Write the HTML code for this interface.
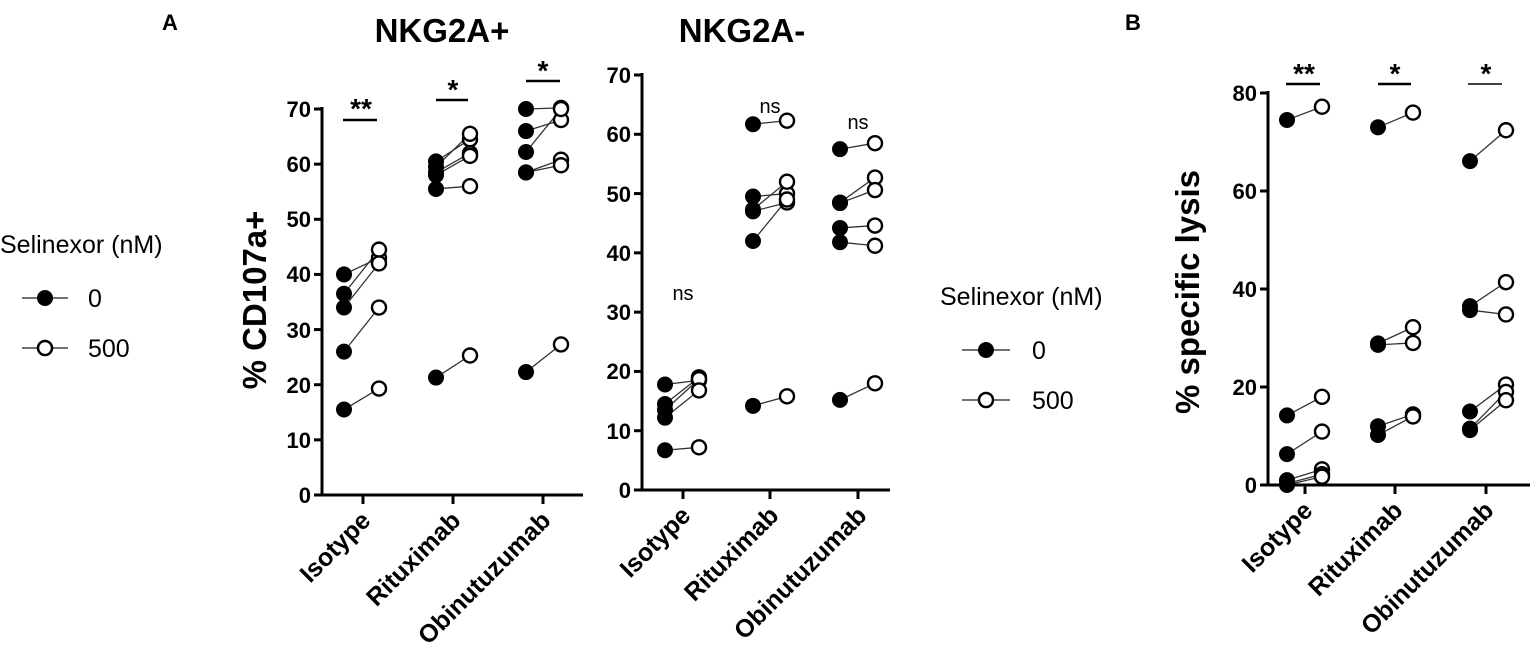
<!DOCTYPE html>
<html><head><meta charset="utf-8"><style>
html,body{margin:0;padding:0;background:#fff}
svg{display:block}
text{font-family:"Liberation Sans",Arial,sans-serif;fill:#000}
.tk{font-size:22px;font-weight:bold;text-anchor:end}
.xl{font-size:25px;font-weight:bold;text-anchor:end}
.ax{stroke:#000;stroke-width:3;fill:none}
.lg{font-size:25px}
</style></head><body>
<svg id="s" width="1536" height="668" viewBox="0 0 1536 668" xmlns="http://www.w3.org/2000/svg">
<text x="170" y="30" font-size="22" font-weight="bold" text-anchor="middle">A</text>
<text x="1133" y="30" font-size="22" font-weight="bold" text-anchor="middle">B</text>
<text x="442" y="42" font-size="33" font-weight="bold" text-anchor="middle">NKG2A+</text>
<text x="742" y="42" font-size="33" font-weight="bold" text-anchor="middle">NKG2A-</text>

<text x="0" y="253" class="lg">Selinexor (nM)</text>
<line x1="22" y1="298" x2="68" y2="298" stroke="#444" stroke-width="1.5"/><circle cx="45" cy="298" r="8" fill="#000"/>
<text x="88" y="307" class="lg">0</text>
<line x1="22" y1="348" x2="68" y2="348" stroke="#444" stroke-width="1.5"/><circle cx="45" cy="348" r="7" fill="#fff" stroke="#000" stroke-width="2.5"/>
<text x="88" y="357" class="lg">500</text>

<text x="940" y="305" class="lg">Selinexor (nM)</text>
<line x1="962" y1="350" x2="1010" y2="350" stroke="#444" stroke-width="1.5"/><circle cx="986" cy="350" r="8" fill="#000"/>
<text x="1032" y="359" class="lg">0</text>
<line x1="962" y1="400" x2="1010" y2="400" stroke="#444" stroke-width="1.5"/><circle cx="986" cy="400" r="7" fill="#fff" stroke="#000" stroke-width="2.5"/>
<text x="1032" y="409" class="lg">500</text>

<text transform="translate(266,300) rotate(-90)" font-size="33" font-weight="bold" text-anchor="middle">% CD107a+</text>
<text transform="translate(1199,292) rotate(-90)" font-size="33" font-weight="bold" text-anchor="middle">% specific lysis</text>

<g class="tk">
<text x="311" y="117">70</text><text x="311" y="172">60</text><text x="311" y="227">50</text><text x="311" y="282">40</text><text x="311" y="338">30</text><text x="311" y="393">20</text><text x="311" y="448">10</text><text x="311" y="503">0</text>
<text x="631" y="83">70</text><text x="631" y="142">60</text><text x="631" y="202">50</text><text x="631" y="261">40</text><text x="631" y="320">30</text><text x="631" y="379">20</text><text x="631" y="439">10</text><text x="631" y="498">0</text>
<text x="1257" y="101">80</text><text x="1257" y="199">60</text><text x="1257" y="297">40</text><text x="1257" y="395">20</text><text x="1257" y="493">0</text>
</g>
<g class="xl">
<text transform="translate(372,522) rotate(-45)">Isotype</text>
<text transform="translate(462,522) rotate(-45)">Rituximab</text>
<text transform="translate(552,522) rotate(-45)">Obinutuzumab</text>
<text transform="translate(692,517) rotate(-45)">Isotype</text>
<text transform="translate(780,517) rotate(-45)">Rituximab</text>
<text transform="translate(868,517) rotate(-45)">Obinutuzumab</text>
<text transform="translate(1314,512) rotate(-45)">Isotype</text>
<text transform="translate(1404,512) rotate(-45)">Rituximab</text>
<text transform="translate(1495,512) rotate(-45)">Obinutuzumab</text>
</g>
<g font-size="20" text-anchor="middle">
<text x="683" y="300">ns</text><text x="770" y="113">ns</text><text x="858" y="129">ns</text>
</g>
<g font-size="28" font-weight="bold" text-anchor="middle">
<text x="361" y="118">**</text><text x="453" y="99">*</text><text x="543" y="80">*</text>
<text x="1304" y="83">**</text><text x="1395" y="83">*</text><text x="1486" y="83">*</text>
</g>
<g stroke="#000" stroke-width="2.5">
<line x1="343" y1="120" x2="377" y2="120"/><line x1="436" y1="100" x2="468" y2="100"/><line x1="526" y1="81" x2="560" y2="81"/>
<line x1="1286" y1="84" x2="1320" y2="84"/><line x1="1378" y1="84" x2="1411" y2="84"/><line x1="1468" y1="84" x2="1502" y2="84" stroke-width="1.5"/>
</g>
<g id="d"></g>
</svg>
<script>
var NS="http://www.w3.org/2000/svg",g=document.getElementById('d');
function el(n,a){var e=document.createElementNS(NS,n);for(var k in a)e.setAttribute(k,a[k]);g.appendChild(e);return e;}
function panel(ax,y0,yTop,vmax,step,ticks,xEnd,groups){
  var sc=function(v){return y0-(y0-yTop)*v/vmax;};
  el('line',{x1:ax,y1:yTop-2,x2:ax,y2:y0,class:'ax'});
  el('line',{x1:ax-8,y1:y0,x2:xEnd,y2:y0,class:'ax'});
  for(var v=0;v<=vmax;v+=step)el('line',{x1:ax-8,y1:sc(v),x2:ax,y2:sc(v),class:'ax'});
  ticks.forEach(function(t){el('line',{x1:t,y1:y0,x2:t,y2:y0+9,class:'ax'});});
  groups.forEach(function(gr){
    gr.p.forEach(function(p){el('line',{x1:gr.a,y1:sc(p[0]),x2:gr.b,y2:sc(p[1]),stroke:'#333','stroke-width':1.3});});
    gr.p.forEach(function(p){el('circle',{cx:gr.b,cy:sc(p[1]),r:7,fill:'#fff',stroke:'#000','stroke-width':2.4});});
    gr.p.forEach(function(p){el('circle',{cx:gr.a,cy:sc(p[0]),r:8,fill:'#000'});});
  });
}
panel(322,495,109,70,10,[363,453,543],583,[
 {a:344,b:379,p:[[40,43],[36.5,44.5],[34,42],[26,34],[15.5,19.3]]},
 {a:436,b:470,p:[[60.5,64.5],[59.5,65.5],[58.5,62],[58,61.5],[55.5,56],[21.3,25.3]]},
 {a:526,b:561,p:[[70,70.2],[66,68],[62.2,70],[58.5,60.8],[58.5,59.8],[22.3,27.3]]}]);
panel(642,490,75,70,10,[683,770,858],890,[
 {a:665,b:699,p:[[17.8,18.5],[14.5,19],[13.5,18.7],[12.2,16.8],[6.7,7.2]]},
 {a:753,b:787,p:[[61.7,62.3],[49.5,50],[47.3,52],[47,48.5],[42,49],[14.2,15.8]]},
 {a:840,b:875,p:[[57.5,58.5],[48.5,52.7],[48.4,50.6],[44.2,44.6],[41.8,41.2],[15.2,18]]}]);
panel(1268,485,93,80,20,[1305,1395,1486],1530,[
 {a:1287,b:1322,p:[[74.5,77.2],[14.2,18],[6.3,10.9],[1,3.2],[0.3,2.2],[0,1.7]]},
 {a:1378,b:1413,p:[[73,76],[28.9,32.2],[28.6,29],[12,14.4],[10.2,14]]},
 {a:1470,b:1506,p:[[66.1,72.4],[36.5,41.4],[35.7,34.8],[15,20.5],[11.5,19],[11.2,17.3]]}]);
</script>
</body></html>
